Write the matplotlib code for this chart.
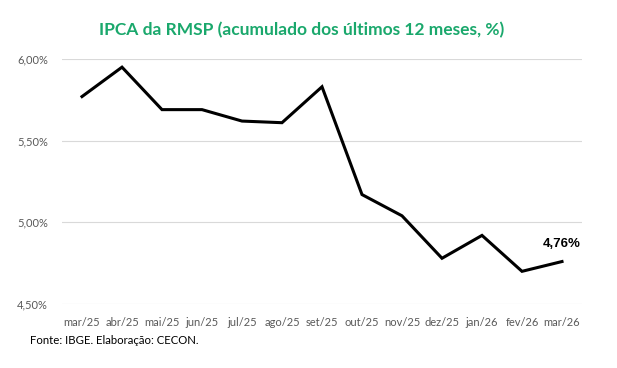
import matplotlib
matplotlib.use("Agg")
import matplotlib.pyplot as plt

meses = ['mar/25', 'abr/25', 'mai/25', 'jun/25', 'jul/25', 'ago/25', 'set/25',
         'out/25', 'nov/25', 'dez/25', 'jan/26', 'fev/26', 'mar/26']
ipca = [5.77, 5.95, 5.69, 5.69, 5.62, 5.61, 5.83, 5.17, 5.04, 4.78, 4.92, 4.70, 4.76]
yticks = [4.5, 5.0, 5.5, 6.0]

plt.rcParams['font.family'] = ['Lato', 'DejaVu Sans']

fig = plt.figure(figsize=(6.17, 3.68), dpi=100)
ax = fig.add_axes([62 / 617, 1 - 304 / 368, 520 / 617, 245 / 368])

x = range(len(meses))
ax.plot(x, ipca, color='black', lw=2.2, solid_joinstyle='miter')

ax.set_xlim(-0.5, len(meses) - 0.5)
ax.set_ylim(4.5, 6.0)
ax.set_yticks(yticks)
ax.set_yticklabels([f'{v:.2f}%'.replace('.', ',') for v in yticks])
ax.set_xticks(list(x))
ax.set_xticklabels(meses)
ax.tick_params(length=0, labelsize=8, labelcolor='#595959')
ax.tick_params(axis='y', pad=10)
ax.tick_params(axis='x', pad=9)
ax.grid(axis='y', color='#d9d9d9', lw=0.8)
ax.set_axisbelow(True)
for s in ax.spines.values():
    s.set_visible(False)

# rótulo do último ponto
ax.annotate(f'{ipca[-1]:.2f}%'.replace('.', ','), (x[-1], ipca[-1]),
            xytext=(0, 8), textcoords='offset points', ha='center', va='bottom',
            fontsize=9.5, fontweight='bold', color='black',
            family=['Liberation Sans', 'DejaVu Sans'])

fig.text(302 / 617, 1 - 30 / 368, 'IPCA da RMSP (acumulado dos últimos 12 meses, %)',
         ha='center', va='center', fontsize=12.5, fontweight='bold', color='#1aa86c')
fig.text(30 / 617, 1 - 340 / 368, 'Fonte: IBGE. Elaboração: CECON.',
         ha='left', va='center', fontsize=8.2, color='black')

fig.savefig('out.png', dpi=100)
